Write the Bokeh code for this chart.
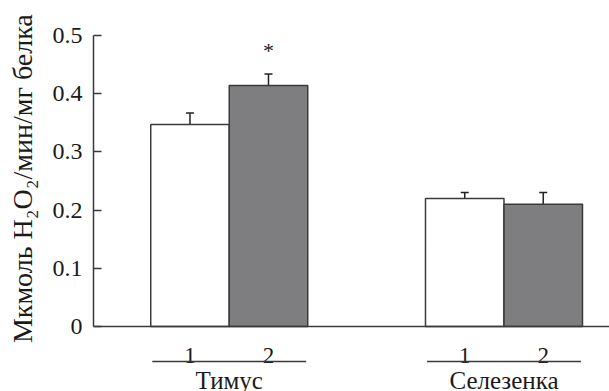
import math
from bokeh.plotting import figure
from bokeh.layouts import row
from bokeh.models import Range1d, Whisker, TeeHead, ColumnDataSource, FixedTicker
from bokeh.core.properties import value
from bokeh.embed import file_html
from bokeh.resources import INLINE

# ---- data ----
groups = ["Тимус", "Селезенка"]
subs = ["1", "2"]
means = [0.347, 0.414, 0.220, 0.210]
errors = [0.020, 0.020, 0.010, 0.020]
signif = ["", "*", "", ""]
y_ticks = [0, 0.1, 0.2, 0.3, 0.4, 0.5]
y_label = "Мкмоль H₂O₂/мин/мг белка"

FONT = "Liberation Serif"
GRAY = "#7e7e81"
LINE = "#3a3a3a"
TXT = "#1a1a1a"
GROUP_STEP = 3.5

xs, fills, subl = [], [], []
for gi, g in enumerate(groups):
    for si, s in enumerate(subs):
        xs.append(gi * GROUP_STEP + si)
        fills.append("white" if si == 0 else GRAY)
        subl.append(s)

src = ColumnDataSource(dict(
    x=xs, top=means, fill=fills,
    upper=[m + e for m, e in zip(means, errors)],
    lower=[m - e for m, e in zip(means, errors)],
    star=signif,
    star_y=[m + e + 0.040 for m, e in zip(means, errors)],
    sub=subl,
))

W, H = 609, 391
LABEL_W = 46
LEFT = 93 - LABEL_W
x0, x1 = -1.229, 5.344
y0, y1 = -0.1117, 0.5601

# ---- narrow panel holding the y-axis title ----
lp = figure(width=LABEL_W, height=H, output_backend="svg", toolbar_location=None,
            x_range=Range1d(0, LABEL_W), y_range=Range1d(y0, y1),
            x_axis_type=None, y_axis_type=None, min_border=0)
lp.outline_line_color = None
lp.grid.visible = False
lp.text(x=[22], y=[(y_ticks[0] + y_ticks[-1]) / 2 + 0.004], text=[y_label],
        angle=math.pi / 2, text_align="center", text_baseline="middle",
        text_font=value(FONT), text_font_size="28px", text_color=TXT)

# ---- main chart ----
p = figure(width=W - LABEL_W, height=H, output_backend="svg", toolbar_location=None,
           x_range=Range1d(x0, x1), y_range=Range1d(y0, y1),
           x_axis_type=None, min_border_left=LEFT, min_border_right=0,
           min_border_top=0, min_border_bottom=0)
p.outline_line_color = None
p.grid.visible = False
p.background_fill_color = "white"

p.vbar(x="x", top="top", bottom=0, width=1.0, source=src, fill_color="fill",
       line_color=LINE, line_width=1.5)

w = Whisker(base="x", upper="upper", lower="lower", source=src,
            line_color="#222222", line_width=1.5,
            upper_head=TeeHead(size=8, line_color="#222222", line_width=1.5),
            lower_head=TeeHead(size=8, line_color="#222222", line_width=1.5))
p.add_layout(w)

p.text(x="x", y="star_y", text="star", source=src, text_align="center",
       text_baseline="alphabetic", text_font=value(FONT), text_font_size="22px",
       text_color="#222222")

# x axis line at 0
p.segment(x0=[x0], y0=[0], x1=[x1], y1=[0], line_color=LINE, line_width=1.5)

# sub labels
p.text(x="x", y=-0.0498, text="sub", source=src, text_align="center",
       text_baseline="alphabetic", text_font=value(FONT), text_font_size="23px",
       text_color=TXT)

# group separators and names
gx0 = [gi * GROUP_STEP - 0.48 for gi in range(len(groups))]
gx1 = [gi * GROUP_STEP + len(subs) - 1 + 0.48 for gi in range(len(groups))]
gc = [gi * GROUP_STEP + (len(subs) - 1) / 2 for gi in range(len(groups))]
p.segment(x0=gx0, y0=-0.0601, x1=gx1, y1=-0.0601, line_color=LINE, line_width=1.5)
p.text(x=gc, y=[-0.0925] * len(groups), text=groups, text_align="center",
       text_baseline="alphabetic", text_font=value(FONT), text_font_size="25px",
       text_color=TXT)

ya = p.yaxis[0]
ya.bounds = (0, 0.5)
ya.ticker = FixedTicker(ticks=y_ticks, minor_ticks=[])
ya.major_label_overrides = {0: "0"}
ya.major_tick_in = 8
ya.major_tick_out = 0
ya.minor_tick_in = 0
ya.minor_tick_out = 0
ya.axis_line_color = LINE
ya.axis_line_width = 1.5
ya.major_tick_line_color = LINE
ya.major_tick_line_width = 1.5
ya.major_label_standoff = 11
ya.major_label_text_font = FONT
ya.major_label_text_font_size = "24px"
ya.major_label_text_color = TXT

layout = row(lp, p, spacing=0)
open("out.html", "w").write(file_html(layout, INLINE))
